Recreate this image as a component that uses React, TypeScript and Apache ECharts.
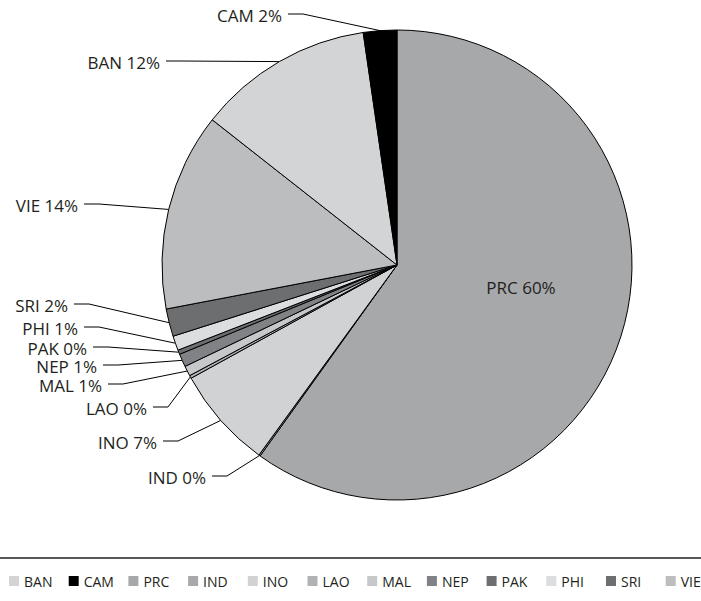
import React, { useEffect, useRef } from "react";
import * as echarts from "echarts";

// Data (clockwise from 12 o'clock)
const categories = ["PRC", "IND", "INO", "LAO", "MAL", "NEP", "PAK", "PHI", "SRI", "VIE", "BAN", "CAM"];
const shares = [59.9, 0.1, 7.0, 0.2, 0.7, 0.9, 0.3, 1.0, 1.9, 13.6, 12.1, 2.3];
const shareLabels = ["60%", "0%", "7%", "0%", "1%", "1%", "0%", "1%", "2%", "14%", "12%", "2%"];
const legendOrder = ["BAN", "CAM", "PRC", "IND", "INO", "LAO", "MAL", "NEP", "PAK", "PHI", "SRI", "VIE"];

// Styles
const sliceColors: Record<string, string> = {
  PRC: "#a7a8aa",
  IND: "#a7a8aa",
  INO: "#d1d2d4",
  LAO: "#b1b2b4",
  MAL: "#c7c8ca",
  NEP: "#808285",
  PAK: "#6d6e70",
  PHI: "#dcdddf",
  SRI: "#6d6e70",
  VIE: "#bcbdbf",
  BAN: "#d3d4d6",
  CAM: "#000000",
};

// Label anchor layout (text right edge / centre, vertical centre) in px
const labelAnchors: Record<string, [number, number]> = {
  PRC: [521, 287],
  IND: [206, 477],
  INO: [157, 442],
  LAO: [147, 408],
  MAL: [102, 385],
  NEP: [97, 366],
  PAK: [87, 348],
  PHI: [78, 328],
  SRI: [68, 305],
  VIE: [78, 205],
  BAN: [160, 62],
  CAM: [282, 15],
};

const FONT = "'Open Sans', 'Noto Sans', sans-serif";

export default function App() {
  const ref = useRef<HTMLDivElement>(null);

  useEffect(() => {
    if (!ref.current) return;
    const chart = echarts.init(ref.current, undefined, { renderer: "svg" });

    const data = categories.map((name, i) => ({
      name,
      value: shares[i],
      itemStyle: { color: sliceColors[name] },
      label:
        i === 0
          ? { position: "inside" as const }
          : { position: "outside" as const },
      labelLine: { show: i !== 0 },
    }));

    chart.setOption({
      animation: false,
      backgroundColor: "#ffffff",
      legend: {
        data: legendOrder,
        orient: "horizontal",
        left: 9,
        top: 574,
        width: 900,
        padding: 0,
        itemWidth: 10,
        itemHeight: 10,
        itemGap: 4.7,
        icon: "rect",
        itemStyle: { borderWidth: 0 },
        textStyle: {
          fontFamily: FONT,
          fontSize: 14,
          color: "#231f20",
          width: 40,
          lineHeight: 14,
        },
      },
      graphic: [
        {
          type: "line",
          shape: { x1: 0, y1: 558, x2: 701, y2: 558 },
          style: { stroke: "#231f20", lineWidth: 1.5 },
        },
      ],
      series: [
        {
          type: "pie",
          center: [397, 265],
          radius: 235,
          startAngle: 90,
          clockwise: true,
          avoidLabelOverlap: false,
          itemStyle: { borderColor: "#000000", borderWidth: 1 },
          label: {
            show: true,
            fontFamily: FONT,
            fontSize: 17,
            lineHeight: 16,
            color: "#231f20",
            formatter: (p: any) => `${p.name} ${shareLabels[p.dataIndex]}`,
          },
          labelLine: {
            show: true,
            lineStyle: { color: "#000000", width: 1 },
          },
          labelLayout: (params: any) => {
            const name = categories[params.dataIndex];
            const anchor = labelAnchors[name];
            if (!anchor) return {};
            if (params.dataIndex === 0) {
              return { x: anchor[0], y: anchor[1], align: "center", verticalAlign: "middle" };
            }
            const [rx, cy] = anchor;
            const pts = params.labelLinePoints;
            const edge = pts && pts[0] ? pts[0] : [rx + 40, cy];
            return {
              x: rx,
              y: cy,
              align: "right",
              verticalAlign: "middle",
              labelLinePoints: [edge, [rx + 21, cy - 1], [rx + 6, cy - 1]],
            };
          },
          data,
        },
      ],
    });

    return () => chart.dispose();
  }, []);

  return (
    <div
      ref={ref}
      style={{ position: "fixed", left: 0, top: 0, width: 701, height: 601 }}
    />
  );
}
